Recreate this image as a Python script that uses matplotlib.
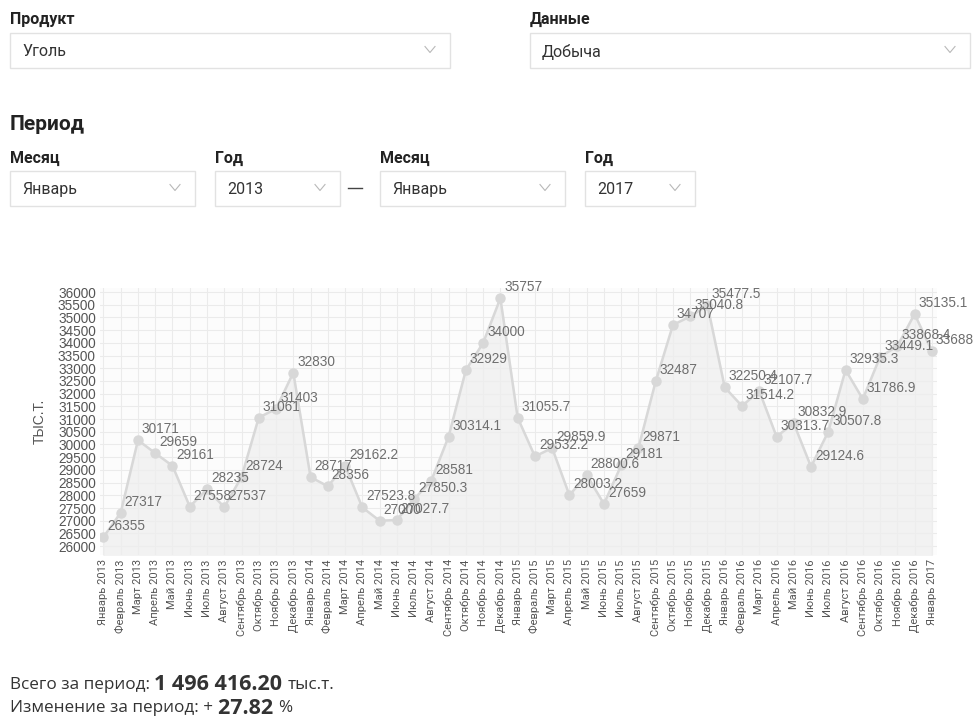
import matplotlib
matplotlib.use('Agg')
from matplotlib import pyplot as plt
from matplotlib.patches import Rectangle

# monthly coal production, thousand tonnes
months = ['Январь', 'Февраль', 'Март', 'Апрель', 'Май', 'Июнь', 'Июль',
          'Август', 'Сентябрь', 'Октябрь', 'Ноябрь', 'Декабрь']
years = [2013, 2014, 2015, 2016]
labels = ['%s %d' % (m, y) for y in years for m in months] + ['Январь 2017']

values_2013 = [26355, 27317, 30171, 29659, 29161, 27558, 28235, 27537, 28724, 31061, 31403, 32830]
values_2014 = [28717, 28356, 29162.2, 27523.8, 27000, 27027.7, 27850.3, 28581, 30314.1, 32929, 34000, 35757]
values_2015 = [31055.7, 29532.2, 29859.9, 28003.2, 28800.6, 27659, 29181, 29871, 32487, 34707, 35040.8, 35477.5]
values_2016 = [32250.4, 31514.2, 32107.7, 30313.7, 30832.9, 29124.6, 30507.8, 32935.3, 31786.9, 33449.1, 33868.4, 35135.1]
values_2017 = [33688]
values = values_2013 + values_2014 + values_2015 + values_2016 + values_2017

total_text = '1 496 416.20'
change_text = '27.82'

W, H = 975, 718
fig = plt.figure(figsize=(W / 100, H / 100), dpi=100, facecolor='w')

# ---- form controls drawn in pixel coordinates
ui = fig.add_axes([0, 0, 1, 1])
ui.set_xlim(0, W)
ui.set_ylim(H, 0)
ui.axis('off')

label_font = dict(family='Roboto', fontsize=11.5, fontweight='bold', color='#222222', va='center')
value_font = dict(family='Roboto', fontsize=11.5, color='#333333', va='center')


def dropdown(x0, x1, y0, y1, text):
    ui.add_patch(Rectangle((x0, y0), x1 - x0, y1 - y0, fill=False, edgecolor='#e2e2e2', lw=1))
    ui.text(x0 + 12, (y0 + y1) / 2 + 1, text, **value_font)
    cx, cy = x1 - 20, (y0 + y1) / 2 - 1
    ui.plot([cx - 5, cx, cx + 5], [cy - 3, cy + 3, cy - 3], color='#b8b8b8', lw=0.8)


ui.text(10, 19, 'Продукт', **label_font)
ui.text(530, 19, 'Данные', **label_font)
dropdown(10, 450, 33, 68, 'Уголь')
dropdown(530, 970, 33, 68, 'Добыча')

ui.text(10, 124, 'Период', family='Roboto', fontsize=15, fontweight='bold', color='#222222', va='center')
ui.text(10, 158, 'Месяц', **label_font)
ui.text(215, 158, 'Год', **label_font)
ui.text(380, 158, 'Месяц', **label_font)
ui.text(585, 158, 'Год', **label_font)
dropdown(10, 195, 171, 206, 'Январь')
dropdown(215, 340, 171, 206, '2013')
ui.plot([348, 362], [188, 188], color='#444444', lw=1)
dropdown(380, 565, 171, 206, 'Январь')
dropdown(585, 695, 171, 206, '2017')

# ---- chart
ax = fig.add_axes([100 / W, 1 - 555 / H, 837 / W, 267 / H])
ax.set_facecolor('#fcfcfc')
x = list(range(len(values)))
ax.fill_between(x, values, 25000, color='#eeeeee', alpha=0.7, zorder=1)
ax.plot(x, values, color='#d8d8d8', lw=1.8, marker='o', markersize=6.5,
        markerfacecolor='#d8d8d8', markeredgecolor='#d8d8d8', zorder=3)
for xi, v in zip(x, values):
    txt = ('%.1f' % v) if v != int(v) else '%d' % v
    ax.annotate(txt, (xi, v), xytext=(4, 4), textcoords='offset pixels',
                ha='left', va='bottom', fontsize=9.8, family='Liberation Sans',
                color='#6e6e6e', zorder=4, annotation_clip=False)

ax.set_xlim(-0.2, len(values) - 0.7)
ax.set_ylim(25650, 36160)
ax.set_yticks(range(26000, 36001, 500))
ax.set_yticklabels([str(t) for t in range(26000, 36001, 500)],
                   fontsize=9.8, family='Liberation Sans', color='#555555')
ax.set_xticks(x)
ax.set_xticklabels(labels, rotation=90, fontsize=8, family='Roboto', color='#555555')
ax.tick_params(length=0, pad=3)
ax.grid(True, color='#ebebeb', lw=0.8, zorder=0)
ax.set_axisbelow(True)
for s in ax.spines.values():
    s.set_visible(False)
ax.set_ylabel('ТЫС.Т.', fontsize=10, family='Liberation Sans', color='#555555', labelpad=8)

# ---- summary lines, placed piece by piece
renderer = fig.canvas.get_renderer()


def text_row(y, parts):
    xpos = 10
    for s, size, weight in parts:
        t = ui.text(xpos, y, s, family='Open Sans', fontsize=size, fontweight=weight,
                    color='#333333', va='center')
        bb = t.get_window_extent(renderer=renderer)
        xpos += bb.width


text_row(685, [('Всего за период: ', 12.3, 'normal'), (total_text + ' ', 15.5, 'bold'),
               ('тыс.т.', 12.3, 'normal')])
text_row(708, [('Изменение за период: + ', 12.3, 'normal'), (change_text + ' ', 15.5, 'bold'),
               ('%', 12.3, 'normal')])

fig.savefig('out.png', dpi=100, facecolor='w')
